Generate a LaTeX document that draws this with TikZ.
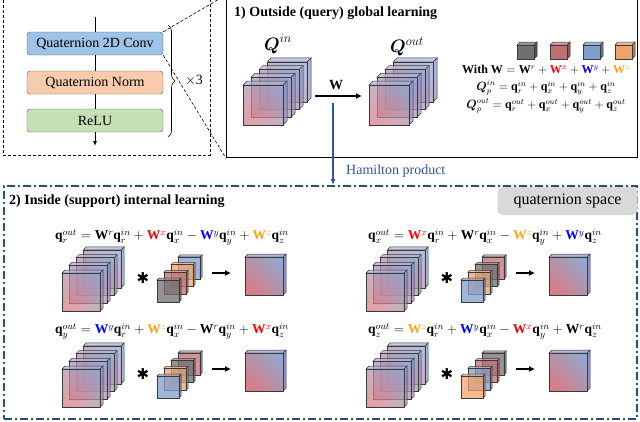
\RequirePackage{fix-cm}
\documentclass[tikz,border=0pt]{standalone}
\usepackage{amsmath}
\usepackage{fontspec}
\setmainfont{Liberation Serif}
\newfontfamily\djv{DejaVu Sans}
\usetikzlibrary{arrows.meta,decorations.pathreplacing,calc,shadings}

\definecolor{convc}{HTML}{9DC3E6}
\definecolor{normc}{HTML}{F8CBAD}
\definecolor{reluc}{HTML}{C5E0B4}
\definecolor{boxb}{HTML}{595959}
\definecolor{dblue}{HTML}{24507F}
\definecolor{hblue}{HTML}{2F5597}
\definecolor{cx}{HTML}{FF0000}
\definecolor{cy}{HTML}{0000FF}
\definecolor{cz}{HTML}{FFA31A}
\definecolor{pred}{HTML}{E0767C}
\definecolor{pblue}{HTML}{8CACD6}
\definecolor{pmix}{HTML}{B691A9}
\definecolor{pside}{HTML}{8E94C4}
\definecolor{ptop}{HTML}{A9B6DA}
\definecolor{edgec}{HTML}{3A3A3A}
\definecolor{kgray}{HTML}{707070}
\definecolor{kred}{HTML}{C07072}
\definecolor{kblue}{HTML}{7F9FCE}
\definecolor{korange}{HTML}{EFA470}
\definecolor{qsgray}{HTML}{D9D9D9}

\newcommand{\QWr}{\mathbf{W}^{r}}
\newcommand{\QWx}{\textcolor{cx}{\mathbf{W}^{x}}}
\newcommand{\QWy}{\textcolor{cy}{\mathbf{W}^{y}}}
\newcommand{\QWz}{\textcolor{cz}{\mathbf{W}^{z}}}
\newcommand{\qi}[1]{\mathbf{q}_{#1}^{in}}
\newcommand{\qo}[1]{\mathbf{q}_{#1}^{out}}

% shaded plate: x y size depth opacity
\newcommand{\gplate}[5]{%
  \filldraw[draw=edgec, line width=0.5pt, fill=pside, fill opacity=#5] ({#1+#3},{#2}) -- ++(#4,-#4) -- ++(0,#3) -- ++(-#4,#4) -- cycle;
  \filldraw[draw=edgec, line width=0.5pt, fill=ptop, fill opacity=#5] ({#1},{#2}) -- ++(#4,-#4) -- ++(#3,0) -- ++(-#4,#4) -- cycle;
  \begin{scope}[y=1pt]
    \shade[lower left=pred, upper right=pblue, upper left=pmix, lower right=pmix, fill opacity=#5] ({#1},{-(#2)-(#3)}) rectangle ++(#3,#3);
  \end{scope}
  \draw[edgec, line width=0.5pt] ({#1},{#2}) rectangle ++(#3,#3);
}
% coloured cube: x y w h depth colour opacity
\newcommand{\ccube}[7]{%
  \filldraw[draw=edgec, line width=0.5pt, fill=#6!75!black, fill opacity=#7] ({#1+#3},{#2}) -- ++(#5,-#5) -- ++(0,#4) -- ++(-#5,#5) -- cycle;
  \filldraw[draw=edgec, line width=0.5pt, fill=#6!70!white, fill opacity=#7] ({#1},{#2}) -- ++(#5,-#5) -- ++(#3,0) -- ++(-#5,#5) -- cycle;
  \filldraw[draw=edgec, line width=0.5pt, fill=#6, fill opacity=#7] ({#1},{#2}) rectangle ++(#3,#4);
}
% panel: dx dy, kernel colours back to front
\newcommand{\qpanel}[6]{%
  \foreach \i in {3,2,1,0}{\gplate{62+#1+7*\i}{273+#2-7.7*\i}{38}{3}{0.72}}
  \node[starfont] at ({143+#1},{278+#2}) {\djv ✱};
  \ccube{157+#1+21}{280+#2-23.1}{22}{22}{2}{#3}{0.75}
  \ccube{157+#1+14}{280+#2-15.4}{22}{22}{2}{#4}{0.75}
  \ccube{157+#1+7}{280+#2-7.7}{22}{22}{2}{#5}{0.75}
  \ccube{157+#1}{280+#2}{22}{22}{2}{#6}{0.75}
  \draw[arr] ({212+#1},{273+#2}) -- ({231+#1},{273+#2});
  \gplate{245+#1}{257+#2}{38}{3}{1}
}

\begin{document}
\begin{tikzpicture}[x=1pt,y=-1pt,
  flowbox/.style={draw=boxb, rounded corners=3pt, minimum width=136pt, minimum height=23pt, inner sep=0pt, font=\fontsize{14}{16}\selectfont},
  txt/.style={font=\fontsize{14}{16}\selectfont, inner sep=0pt},
  eqfont/.style={font=\fontsize{13.5}{16}\selectfont, inner sep=0pt},
  smeq/.style={font=\fontsize{12}{14}\selectfont, inner sep=0pt},
  starfont/.style={font=\fontsize{15}{15}\selectfont, inner sep=0pt},
  arr/.style={line width=1.6pt, -{Latex[length=6pt,width=6pt]}},
]
\useasboundingbox (0,0) rectangle (640,421);
\fill[white] (0,0) rectangle (640,421);

% ---------- left flowchart ----------
\draw[dashed, line width=0.6pt, dash pattern=on 3pt off 2pt] (3,-5) rectangle (210,155);
\node[flowbox, fill=convc] (conv) at (95,43.5) {Quaternion 2D Conv};
\node[flowbox, fill=normc] (norm) at (95,82.5) {Quaternion Norm};
\node[flowbox, fill=reluc] (relu) at (95,120.5) {ReLU};
\coordinate (fin) at (95,17);
\coordinate (fout) at (95,146);
\draw[line width=0.9pt] (fin) -- (conv);
\draw[line width=0.9pt] (conv) -- (norm);
\draw[line width=0.9pt] (norm) -- (relu);
\draw[line width=0.9pt, -{Latex[length=5pt,width=4pt]}] (relu) -- (fout);
\draw[line width=0.6pt, decorate, decoration={brace, amplitude=7pt}] (168,25) -- (168,137);
\node[txt] (times) at (194,80) {$\times$3};

% ---------- top panel ----------
\node[draw, line width=1.4pt, minimum width=411pt, minimum height=162pt, inner sep=0pt, anchor=north west] (mainbox) at (226,-5) {};
\draw[dashed, line width=0.6pt, dash pattern=on 3pt off 2pt] (conv.north east) -- (mainbox.north west);
\draw[dashed, line width=0.6pt, dash pattern=on 3pt off 2pt] (conv.south east) -- (mainbox.south west);
\node[txt, anchor=west, font=\fontsize{14}{16}\selectfont\bfseries] (t1title) at (234,13) {1) Outside (query) global learning};

\foreach \i in {3,2,1,0}{\gplate{243+8*\i}{85-7.7*\i}{40}{4}{0.72}}
\foreach \i in {3,2,1,0}{\gplate{369+8*\i}{85-7.7*\i}{40}{4}{0.72}}
\node[font=\fontsize{18}{18}\selectfont, inner sep=0pt] (qin) at (278,44) {$\boldsymbol{Q}^{in}$};
\node[font=\fontsize{18}{18}\selectfont, inner sep=0pt] (qout) at (407,47) {$\boldsymbol{Q}^{out}$};
\coordinate (wa) at (315,96);
\coordinate (wb) at (362,96);
\draw[arr] (wa) -- (wb);
\node[font=\fontsize{14}{16}\selectfont, inner sep=0pt] (wlab) at (336,85) {$\mathbf{W}$};

\ccube{517}{45}{17}{14}{3}{kgray}{1}
\ccube{550}{45}{17}{14}{3}{kred}{1}
\ccube{583}{45}{17}{14}{3}{kblue}{1}
\ccube{615}{45}{17}{14}{3}{korange}{1}
\node[smeq] (we) at (546,70) {\textbf{With} $\mathbf{W} = \QWr + \QWx + \QWy + \QWz$};
\node[smeq] (qpin) at (546,88) {$\boldsymbol{Q}_p^{in} = \qi{r} + \qi{x} + \qi{y} + \qi{z}$};
\node[smeq] (qpout) at (546,106) {$\boldsymbol{Q}_p^{out} = \qo{r} + \qo{x} + \qo{y} + \qo{z}$};

% ---------- bottom panel ----------
\node[draw=dblue, line width=1.6pt, dash pattern=on 8pt off 3pt on 2pt off 3pt, minimum width=633pt, minimum height=233pt, inner sep=0pt, anchor=north west] (bbox) at (3,185) {};
\coordinate (hs) at (333,103);
\draw[hblue, line width=1.3pt, -{Latex[length=6pt,width=5pt]}] (hs) -- (hs |- bbox.north);
\node[txt, anchor=west, text=hblue] (ham) at (346,171) {Hamilton product};
\node[fill=qsgray, rounded corners=5pt, minimum width=140pt, minimum height=28pt, inner sep=0pt, font=\fontsize{16}{18}\selectfont] (qspace) at (567.5,201) {quaternion space};
\node[txt, anchor=west, font=\fontsize{14}{16}\selectfont\bfseries] (t2title) at (9,201) {2) Inside (support) internal learning};

\node[eqfont] (e1) at (172,237) {$\qo{r} = \QWr\qi{r} + \QWx\qi{x} - \QWy\qi{y} + \QWz\qi{z}$};
\node[eqfont] (e2) at (485,237) {$\qo{x} = \QWx\qi{r} + \QWr\qi{x} - \QWz\qi{y} + \QWy\qi{z}$};
\node[eqfont] (e3) at (172,331) {$\qo{y} = \QWy\qi{r} + \QWz\qi{x} - \QWr\qi{y} + \QWx\qi{z}$};
\node[eqfont] (e4) at (485,331) {$\qo{z} = \QWz\qi{r} + \QWy\qi{x} - \QWx\qi{y} + \QWr\qi{z}$};

\qpanel{0}{0}{kblue}{korange}{kred}{kgray}
\qpanel{304}{0}{kred}{kgray}{korange}{kblue}
\qpanel{0}{96}{kred}{kgray}{korange}{kblue}
\qpanel{304}{96}{kgray}{kred}{kblue}{korange}
\end{tikzpicture}
\end{document}
